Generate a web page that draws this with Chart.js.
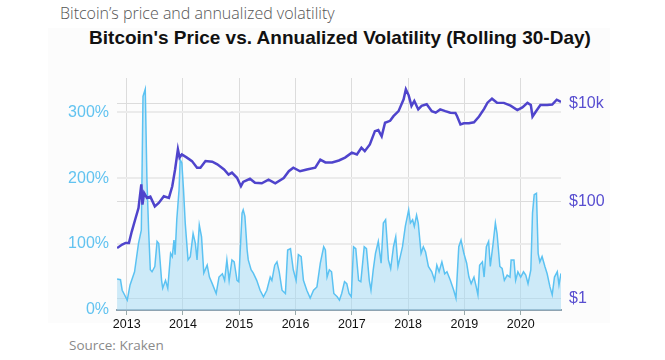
<!DOCTYPE html>
<html lang="en">
<head>
<meta charset="UTF-8">
<title>Bitcoin's Price vs. Annualized Volatility</title>
<script src="https://cdn.jsdelivr.net/npm/chart.js"></script>
<style>
  body { margin: 0; background: #fff; }
  #wrap { position: relative; width: 665px; height: 360px; overflow: hidden; }
  #panel { position: absolute; left: 48px; top: 28px; width: 562px; height: 295px; background: #fcfcfc; }
  #caption { position: absolute; left: 60px; top: 2px; font: 300 16px "Open Sans", sans-serif; color: #555; white-space: nowrap; }
  #title { position: absolute; left: 0; width: 680px; top: 27px; text-align: center; font: bold 19px "Liberation Sans", Arial, sans-serif; color: #111; white-space: nowrap; }
  #source { position: absolute; left: 69px; top: 336px; font: 13.5px "Open Sans", sans-serif; color: #8a8a8a; white-space: nowrap; }
  canvas { position: absolute; left: 0; top: 0; }
</style>
</head>
<body>
<div id="wrap">
  <div id="panel"></div>
  <div id="caption">Bitcoin’s price and annualized volatility</div>
  <div id="title">Bitcoin's Price vs. Annualized Volatility (Rolling 30-Day)</div>
  <div id="source">Source: Kraken</div>
  <canvas id="chart" width="665" height="360"></canvas>
</div>
<script>
// tick labels
const years = [2013, 2014, 2015, 2016, 2017, 2018, 2019, 2020];
const pctTicks = [0, 100, 200, 300];
const priceTicks = [1, 100, 10000];
const priceTickLabels = ['$1', '$100', '$10k'];

// rolling 30-day annualized volatility (%), dates as decimal years
const volDates = [
  2012.83, 2012.89, 2012.92, 2012.95, 2013.01, 2013.06, 2013.14, 2013.21, 2013.26, 2013.29,
  2013.33, 2013.36, 2013.39, 2013.42, 2013.45, 2013.50, 2013.54, 2013.57, 2013.62, 2013.64,
  2013.69, 2013.73, 2013.78, 2013.81, 2013.84, 2013.86, 2013.89, 2013.93, 2013.95, 2013.98,
  2014.01, 2014.04, 2014.09, 2014.13, 2014.18, 2014.22, 2014.25, 2014.29, 2014.33, 2014.37,
  2014.43, 2014.47, 2014.52, 2014.59, 2014.64, 2014.70, 2014.74, 2014.78, 2014.82, 2014.87,
  2014.91, 2014.96, 2014.99, 2015.05, 2015.07, 2015.10, 2015.14, 2015.16, 2015.21, 2015.25,
  2015.31, 2015.37, 2015.43, 2015.49, 2015.55, 2015.58, 2015.63, 2015.67, 2015.71, 2015.76,
  2015.82, 2015.86, 2015.91, 2015.96, 2016.01, 2016.05, 2016.10, 2016.14, 2016.20, 2016.26,
  2016.32, 2016.38, 2016.44, 2016.50, 2016.53, 2016.56, 2016.60, 2016.64, 2016.68, 2016.74,
  2016.78, 2016.82, 2016.87, 2016.91, 2016.95, 2016.99, 2017.03, 2017.07, 2017.12, 2017.16,
  2017.22, 2017.26, 2017.31, 2017.34, 2017.38, 2017.42, 2017.47, 2017.52, 2017.56, 2017.60,
  2017.65, 2017.69, 2017.74, 2017.78, 2017.82, 2017.86, 2017.90, 2017.95, 2018.01, 2018.04,
  2018.08, 2018.11, 2018.15, 2018.18, 2018.23, 2018.27, 2018.31, 2018.36, 2018.42, 2018.47,
  2018.51, 2018.55, 2018.60, 2018.65, 2018.69, 2018.75, 2018.81, 2018.85, 2018.90, 2018.94,
  2018.99, 2019.04, 2019.08, 2019.12, 2019.17, 2019.21, 2019.24, 2019.27, 2019.32, 2019.35,
  2019.39, 2019.43, 2019.46, 2019.51, 2019.55, 2019.58, 2019.63, 2019.67, 2019.71, 2019.76,
  2019.81, 2019.83, 2019.88, 2019.91, 2019.95, 2020.00, 2020.05, 2020.09, 2020.13, 2020.18,
  2020.21, 2020.24, 2020.28, 2020.31, 2020.34, 2020.38, 2020.43, 2020.47, 2020.52, 2020.56,
  2020.60, 2020.65, 2020.68, 2020.71, 2020.716
];
const volValues = [
  47, 46, 30, 25, 15, 38, 58, 101, 121, 324,
  335, 197, 121, 61, 58, 66, 104, 101, 45, 33,
  45, 33, 86, 81, 106, 84, 137, 182, 228, 223,
  182, 132, 76, 81, 116, 101, 76, 129, 111, 56,
  68, 50, 40, 25, 50, 55, 45, 76, 45, 76,
  73, 45, 43, 147, 152, 142, 91, 76, 61, 56,
  45, 30, 20, 30, 50, 45, 68, 73, 58, 30,
  25, 91, 93, 61, 45, 84, 81, 45, 30, 18,
  30, 35, 71, 96, 91, 50, 61, 58, 25, 20,
  15, 25, 43, 40, 25, 20, 96, 93, 45, 43,
  96, 93, 45, 30, 61, 86, 104, 71, 132, 137,
  76, 63, 96, 111, 66, 81, 96, 127, 152, 132,
  137, 127, 144, 132, 86, 96, 88, 66, 58, 45,
  68, 58, 73, 55, 58, 45, 30, 18, 96, 106,
  86, 71, 50, 40, 50, 35, 23, 68, 73, 50,
  96, 104, 66, 101, 132, 116, 66, 63, 45, 53,
  50, 76, 76, 45, 58, 50, 58, 53, 40, 61,
  147, 175, 177, 86, 73, 81, 66, 55, 35, 23,
  50, 58, 38, 53, 52
];

// bitcoin price (USD, log axis)
const priceDates = [
  2012.83, 2012.92, 2012.98, 2013.04, 2013.09, 2013.15, 2013.21, 2013.26, 2013.28, 2013.31,
  2013.36, 2013.42, 2013.50, 2013.57, 2013.66, 2013.75, 2013.81, 2013.86, 2013.91, 2013.94,
  2013.98, 2014.07, 2014.16, 2014.25, 2014.31, 2014.40, 2014.52, 2014.61, 2014.73, 2014.81,
  2014.87, 2014.96, 2015.03, 2015.07, 2015.19, 2015.28, 2015.40, 2015.52, 2015.64, 2015.79,
  2015.88, 2015.96, 2016.08, 2016.20, 2016.35, 2016.44, 2016.53, 2016.65, 2016.77, 2016.88,
  2017.00, 2017.09, 2017.17, 2017.23, 2017.32, 2017.41, 2017.47, 2017.53, 2017.59, 2017.68,
  2017.74, 2017.83, 2017.92, 2017.96, 2018.01, 2018.06, 2018.11, 2018.18, 2018.24, 2018.33,
  2018.42, 2018.49, 2018.57, 2018.66, 2018.75, 2018.84, 2018.87, 2018.93, 2018.99, 2019.08,
  2019.17, 2019.26, 2019.35, 2019.41, 2019.49, 2019.58, 2019.70, 2019.82, 2019.94, 2020.03,
  2020.12, 2020.18, 2020.21, 2020.27, 2020.35, 2020.47, 2020.56, 2020.64, 2020.716
];
const priceValues = [
  11, 13, 14, 14, 24, 42, 73, 223, 86, 149,
  118, 125, 79, 93, 127, 118, 204, 450, 1170, 790,
  920, 790, 670, 490, 490, 670, 650, 575, 450, 355,
  390, 304, 205, 250, 290, 240, 235, 280, 235, 300,
  415, 490, 415, 450, 490, 720, 630, 630, 690, 790,
  1000, 920, 1260, 1070, 1470, 2760, 2900, 2170, 4100, 4500,
  5600, 7100, 12400, 19900, 15000, 9100, 11500, 7700, 9100, 9800,
  7100, 6600, 7700, 7100, 6600, 6500, 5600, 3800, 4000, 4000,
  4200, 5500, 7900, 10600, 12800, 10600, 10500, 9200, 7500, 8500,
  10500, 9500, 5500, 7000, 9500, 9500, 9700, 12200, 11000
];

const pricePoints = priceDates.map((d, i) => ({ x: d, y: priceValues[i] }));
const volPoints = volDates.map((d, i) => ({ x: d, y: volValues[i] }));

const ctx = document.getElementById('chart').getContext('2d');
new Chart(ctx, {
  type: 'line',
  data: {
    datasets: [
      {
        label: 'Price',
        data: pricePoints,
        yAxisID: 'yPrice',
        borderColor: '#4f44cc',
        borderWidth: 2.5,
        pointRadius: 0,
        fill: false,
        tension: 0
      },
      {
        label: 'Volatility',
        data: volPoints,
        yAxisID: 'yVol',
        borderColor: '#5bc2f2',
        borderWidth: 1.5,
        backgroundColor: 'rgba(165, 218, 244, 0.55)',
        pointRadius: 0,
        fill: 'origin',
        tension: 0
      }
    ]
  },
  options: {
    responsive: false,
    animation: false,
    devicePixelRatio: 1,
    layout: { padding: { top: 78, left: 60, right: 40, bottom: 28 } },
    plugins: {
      legend: { display: false },
      tooltip: { enabled: false },
      title: { display: false }
    },
    scales: {
      x: {
        type: 'linear',
        min: 2012.828,
        max: 2020.716,
        afterBuildTicks: s => { s.ticks = years.map(v => ({ value: v })); },
        afterFit: s => { s.height = 22; },
        ticks: {
          color: '#111',
          font: { family: '"Liberation Sans", Arial, sans-serif', size: 12.5 },
          callback: v => String(v),
          autoSkip: false,
          maxRotation: 0,
          padding: 2
        },
        grid: { color: '#dcdcdc', lineWidth: 1, tickLength: 5, tickColor: '#9aa' },
        border: { color: '#8ea3b1', width: 2 }
      },
      yVol: {
        type: 'linear',
        position: 'left',
        min: 0,
        max: 352,
        afterBuildTicks: s => { s.ticks = pctTicks.map(v => ({ value: v })); },
        afterFit: s => { s.width = 57; },
        ticks: {
          color: '#62c3f0',
          font: { family: '"Liberation Sans", Arial, sans-serif', size: 16 },
          callback: v => v + '%',
          padding: 8
        },
        grid: { color: '#ebebeb', lineWidth: 2, drawTicks: false },
        border: { display: false }
      },
      yPrice: {
        type: 'logarithmic',
        position: 'right',
        min: 0.59,
        max: 34000,
        afterBuildTicks: s => { s.ticks = priceTicks.map(v => ({ value: v })); },
        afterFit: s => { s.width = 64; },
        ticks: {
          color: '#584ed0',
          font: { family: '"Liberation Sans", Arial, sans-serif', size: 16 },
          callback: (v, i) => priceTickLabels[i],
          padding: 8
        },
        grid: { color: '#dcdcdc', lineWidth: 1, drawTicks: false },
        border: { display: false }
      }
    }
  }
});
</script>
</body>
</html>
